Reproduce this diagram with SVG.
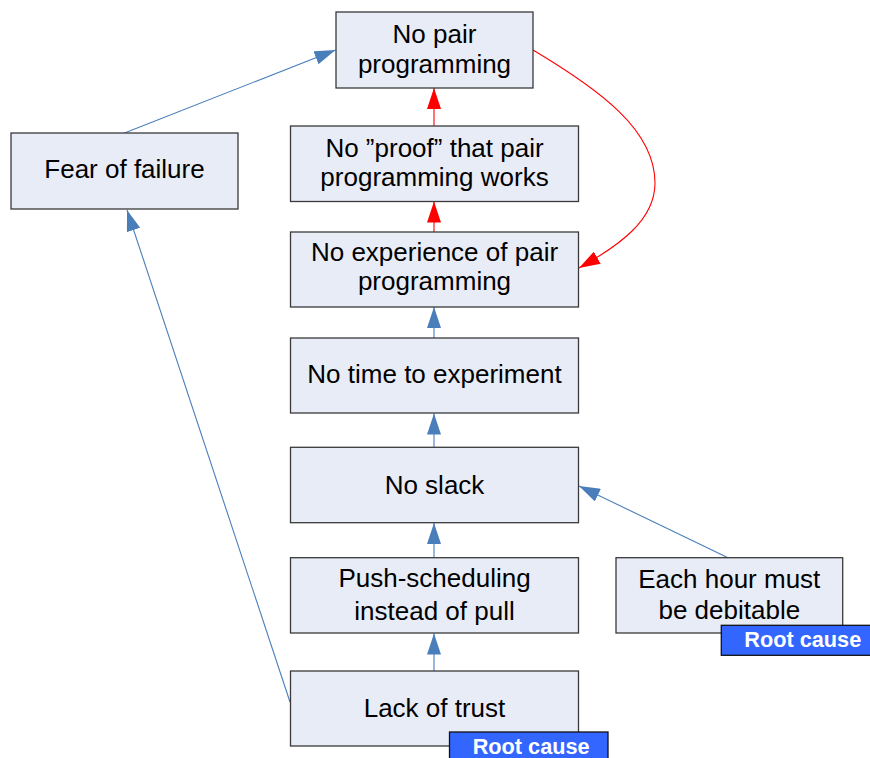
<svg xmlns="http://www.w3.org/2000/svg" width="870" height="758" viewBox="0 0 870 758">
<defs>
<style>
.box{fill:#e8ecf7;stroke:#3a3a3a;stroke-width:1.3}
.t{font-family:"Liberation Sans",Arial,sans-serif;font-size:26px;fill:#000;text-anchor:middle}
.rc{fill:#3366ff;stroke:#111;stroke-width:1.3}
.rct{font-family:"Liberation Sans",Arial,sans-serif;font-size:21.7px;font-weight:bold;fill:#fff}
.bl{stroke:#4a7ebb;stroke-width:1.1;fill:none;marker-end:url(#ab)}
.rd{stroke:#ff0000;stroke-width:1.1;fill:none;marker-end:url(#ar)}
</style>
<marker id="ab" viewBox="0 0 21 14" refX="21" refY="7" markerWidth="21" markerHeight="14" markerUnits="userSpaceOnUse" orient="auto">
<path d="M0,0 L21,7 L0,14 z" fill="#4a7ebb"/>
</marker>
<marker id="ar" viewBox="0 0 21 14" refX="21" refY="7" markerWidth="21" markerHeight="14" markerUnits="userSpaceOnUse" orient="auto">
<path d="M0,0 L21,7 L0,14 z" fill="#ff0000"/>
</marker>
</defs>
<rect width="870" height="758" fill="#ffffff"/>
<g id="connectors">
<path class="bl" d="M124.5,133 L335.5,50"/>
<path class="bl" d="M290,702 L127,210"/>
<path class="bl" d="M728,557.7 L579,486"/>
<path class="bl" d="M434,557.7 L434,523"/>
<path class="bl" d="M434,447 L434,413.5"/>
<path class="bl" d="M434,338 L434,307"/>
<path class="bl" d="M434,671 L434,633.5"/>
<path class="rd" d="M434,232 L434,201.5"/>
<path class="rd" d="M434,126 L434,88"/>
<path class="rd" d="M533,50 C600,90 655,130 655,183 C655,220 620,245 579,268"/>
</g>
<g id="n-nopair">
<rect class="box" x="336" y="12" width="197" height="76"/>
<text class="t" x="434.5" y="43.3">No pair</text>
<text class="t" x="434.5" y="73.3">programming</text>
</g>
<g id="n-fear">
<rect class="box" x="11" y="133" width="227" height="76"/>
<text class="t" x="124.5" y="178.3">Fear of failure</text>
</g>
<g id="n-proof">
<rect class="box" x="290.5" y="126" width="288" height="75.5"/>
<text class="t" x="434.5" y="156.7">No ”proof” that pair</text>
<text class="t" x="434.5" y="185.7">programming works</text>
</g>
<g id="n-exp">
<rect class="box" x="290.5" y="232" width="288" height="75"/>
<text class="t" x="434.5" y="261">No experience of pair</text>
<text class="t" x="434.5" y="290">programming</text>
</g>
<g id="n-time">
<rect class="box" x="290.5" y="338" width="288" height="75"/>
<text class="t" x="434.5" y="383.3">No time to experiment</text>
</g>
<g id="n-slack">
<rect class="box" x="290.5" y="447.3" width="288" height="75.4"/>
<text class="t" x="434.5" y="494">No slack</text>
</g>
<g id="n-push">
<rect class="box" x="290.5" y="557.7" width="288" height="75.3"/>
<text class="t" x="434.5" y="587.3">Push-scheduling</text>
<text class="t" x="434.5" y="620">instead of pull</text>
</g>
<g id="n-hour">
<rect class="box" x="616" y="557.7" width="226.7" height="75.3"/>
<text class="t" x="729.3" y="588.3">Each hour must</text>
<text class="t" x="729.3" y="619">be debitable</text>
</g>
<g id="rc-hour">
<rect class="rc" x="721.3" y="625.3" width="160" height="30"/>
<text class="rct" x="744.3" y="647.3">Root cause</text>
</g>
<g id="n-trust">
<rect class="box" x="290.5" y="671" width="288" height="75"/>
<text class="t" x="434.5" y="716.7">Lack of trust</text>
</g>
<g id="rc-trust">
<rect class="rc" x="449.5" y="732" width="158.5" height="30"/>
<text class="rct" x="472.7" y="753.7">Root cause</text>
</g>
</svg>
